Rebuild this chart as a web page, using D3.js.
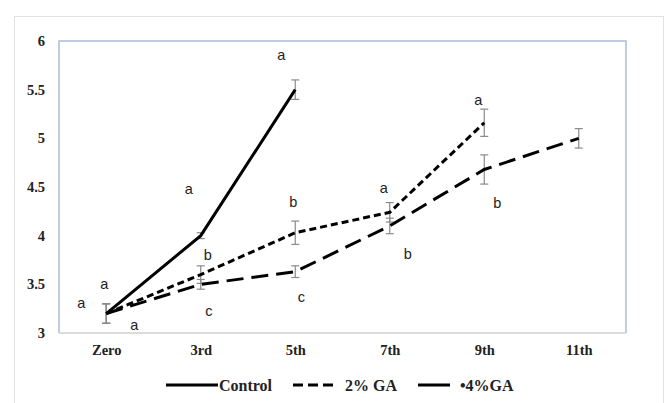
<!DOCTYPE html>
<html><head><meta charset="utf-8">
<script src="https://cdn.jsdelivr.net/npm/d3@7"></script>
<style>body{margin:0;background:#fff}svg{display:block}</style>
</head><body>
<svg id="c" width="672" height="403"></svg>
<script>
const categories = ["Zero","3rd","5th","7th","9th","11th"];
const yTicks = [3, 3.5, 4, 4.5, 5, 5.5, 6];
const controlVals = [3.2, 4.0, 5.5, null, null, null];
const controlErr  = [0.1, 0.03, 0.1, null, null, null];
const ga2Vals = [3.2, 3.6, 4.03, 4.24, 5.16, null];
const ga2Err  = [0.1, 0.09, 0.12, 0.1, 0.14, null];
const ga4Vals = [3.2, 3.5, 3.63, 4.1, 4.68, 5.0];
const ga4Err  = [0.1, 0.05, 0.06, 0.08, 0.15, 0.1];
const seriesNames = ["Control", "2% GA", "\u20224%GA"];
// significance letters: [category, value where placed, letter, x offset]
const letters = [
  ["Zero", 3.26, "a", -25], ["Zero", 3.45, "a", -2], ["Zero", 3.03, "a", 28],
  ["3rd", 4.43, "a", -12], ["3rd", 3.75, "b", 7], ["3rd", 3.17, "c", 8],
  ["5th", 5.80, "a", -14], ["5th", 4.29, "b", -2], ["5th", 3.32, "c", 6],
  ["7th", 4.44, "a", -6], ["7th", 3.76, "b", 18],
  ["9th", 5.34, "a", -6], ["9th", 4.28, "b", 13]
];

const svg = d3.select("#c");
const L = 59, R = 626, T = 41, B = 333;
const x = d3.scalePoint().domain(categories).range([L, R]).padding(0.5);
const y = d3.scaleLinear().domain([3, 6]).range([B, T]);

// outer chart border
svg.append("rect").attr("x", 14.5).attr("y", 16.5).attr("width", 649).attr("height", 400)
  .attr("fill", "none").attr("stroke", "#e2e2e2").attr("stroke-width", 1);

// plot border (blue on left/top/right)
svg.append("path").attr("d", `M${L},${B} V${T} H${R} V${B}`)
  .attr("fill", "none").attr("stroke", "#a9bcdc").attr("stroke-width", 1.5);
svg.append("line").attr("x1", L).attr("x2", R).attr("y1", B).attr("y2", B)
  .attr("stroke", "#d0d0d0").attr("stroke-width", 1.5);

// axes
const yAxis = svg.append("g").attr("transform", `translate(${L},0)`)
  .call(d3.axisLeft(y).tickValues(yTicks).tickSize(0).tickPadding(14).tickFormat(d3.format("")));
yAxis.select(".domain").remove();
yAxis.selectAll("text").attr("font-family", "Liberation Serif").attr("font-weight", "bold")
  .attr("font-size", 14.5).attr("fill", "#222");

const xAxis = svg.append("g").attr("transform", `translate(0,${B})`)
  .call(d3.axisBottom(x).tickSize(0).tickPadding(12));
xAxis.select(".domain").remove();
xAxis.selectAll("text").attr("font-family", "Liberation Serif").attr("font-weight", "bold")
  .attr("font-size", 14.5).attr("fill", "#222");

const series = [
  {vals: controlVals, err: controlErr, dash: null},
  {vals: ga2Vals, err: ga2Err, dash: "7,4"},
  {vals: ga4Vals, err: ga4Err, dash: "17,8"}
];

// error bars
series.forEach(s => {
  categories.forEach((c, i) => {
    if (s.vals[i] == null) return;
    const cx = x(c), e = s.err[i];
    const g = svg.append("g").attr("stroke", "#8a8a8a").attr("stroke-width", 1.2);
    g.append("line").attr("x1", cx).attr("x2", cx).attr("y1", y(s.vals[i] - e)).attr("y2", y(s.vals[i] + e));
    g.append("line").attr("x1", cx - 4).attr("x2", cx + 4).attr("y1", y(s.vals[i] - e)).attr("y2", y(s.vals[i] - e));
    g.append("line").attr("x1", cx - 4).attr("x2", cx + 4).attr("y1", y(s.vals[i] + e)).attr("y2", y(s.vals[i] + e));
  });
});

// lines
const line = d3.line().defined(d => d.v != null).x(d => x(d.c)).y(d => y(d.v));
series.forEach(s => {
  const data = categories.map((c, i) => ({c, v: s.vals[i]}));
  svg.append("path").datum(data).attr("d", line).attr("fill", "none")
    .attr("stroke", "#000").attr("stroke-width", 3)
    .attr("stroke-dasharray", s.dash);
});

// letters
letters.forEach(([c, v, t, dx]) => {
  svg.append("text").attr("x", x(c) + dx).attr("y", y(v)).attr("text-anchor", "middle")
    .attr("font-family", "Liberation Sans, Arial, sans-serif").attr("font-size", 14.5)
    .attr("fill", "#222").text(t);
});

// legend
const legY = 385;
const legItems = [
  {x1: 166, x2: 218, tx: 219, dash: null},
  {x1: 293, x2: 337, tx: 345, dash: "10,5"},
  {x1: 418, x2: 450, tx: 460, dash: null}
];
legItems.forEach((it, i) => {
  svg.append("line").attr("x1", it.x1).attr("x2", it.x2).attr("y1", legY).attr("y2", legY)
    .attr("stroke", "#000").attr("stroke-width", 3).attr("stroke-dasharray", it.dash);
  svg.append("text").attr("x", it.tx).attr("y", legY + 5.5)
    .attr("font-family", "Liberation Serif").attr("font-weight", "bold").attr("font-size", 16)
    .attr("fill", "#222").text(seriesNames[i]);
});
</script>
</body></html>
